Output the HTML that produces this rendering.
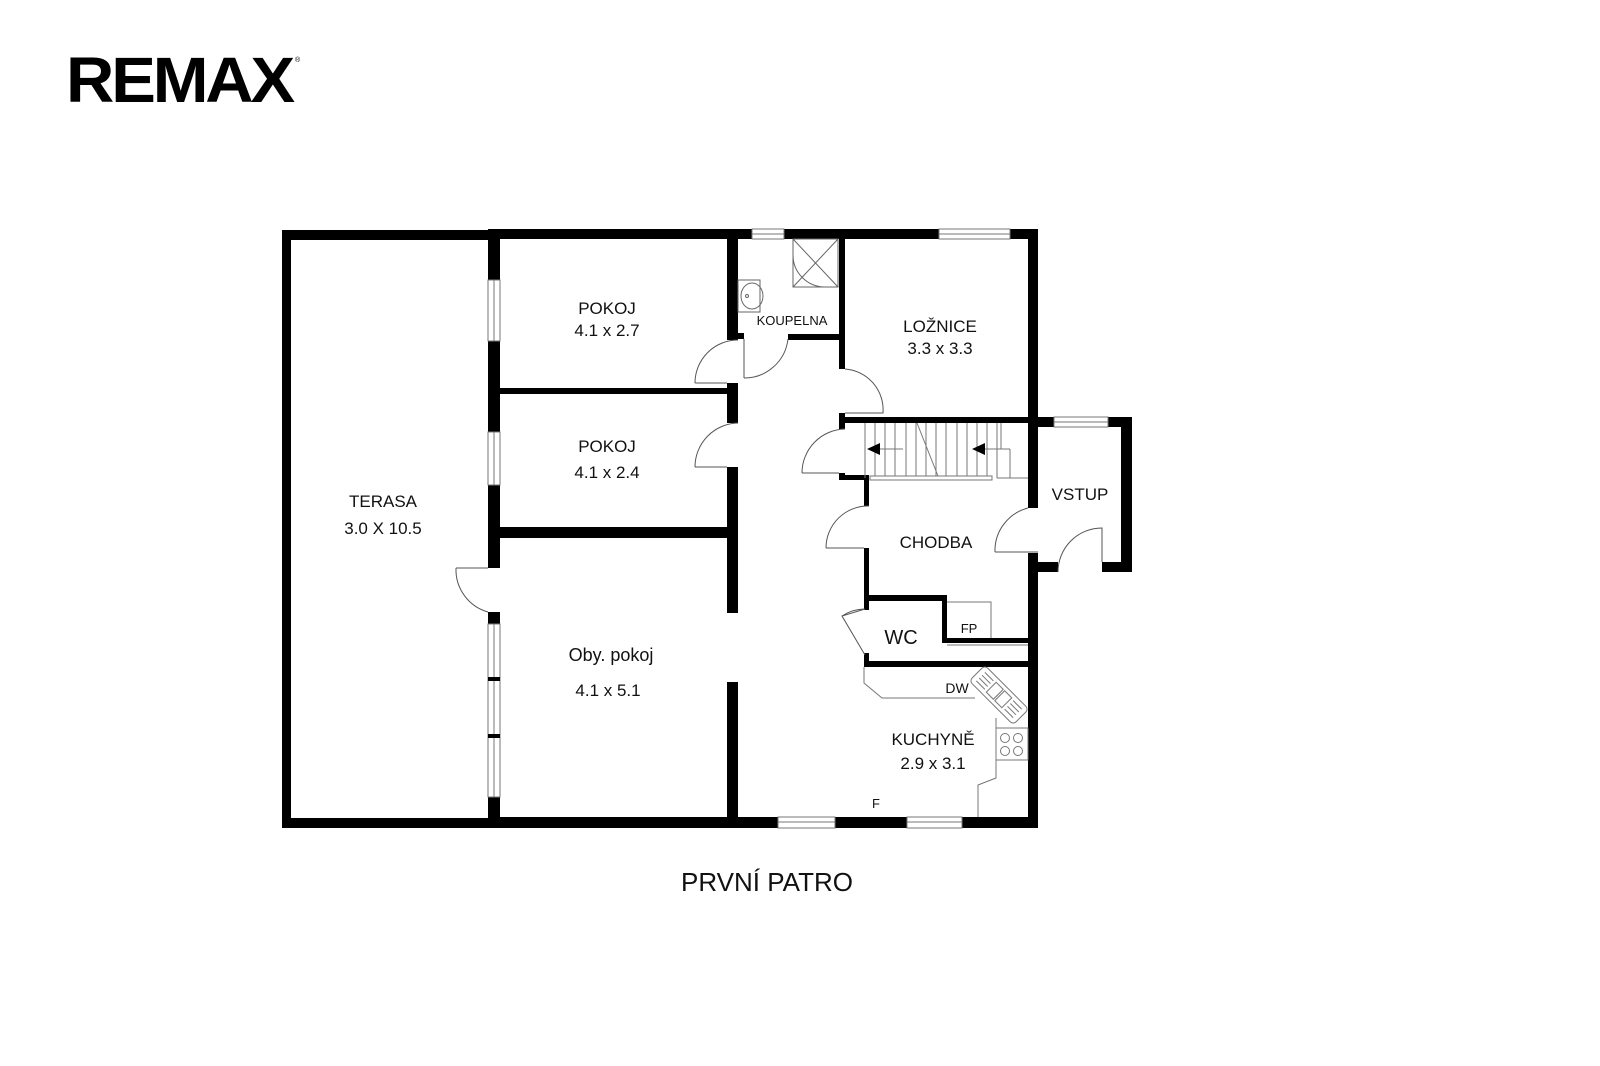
<!DOCTYPE html>
<html><head><meta charset="utf-8"><style>
html,body{margin:0;padding:0;background:#fff;}
svg{display:block;}
text{font-family:"Liberation Sans",sans-serif;fill:#111;}
</style></head><body>
<svg width="1600" height="1066" viewBox="0 0 1600 1066" xmlns="http://www.w3.org/2000/svg">
<rect width="1600" height="1066" fill="#fff"/>
<!-- logo -->
<text x="66" y="102" font-size="64" font-weight="bold" letter-spacing="-3" textLength="226" lengthAdjust="spacingAndGlyphs" style="fill:#000">REMAX</text>
<text x="295" y="62" font-size="7" style="fill:#000">®</text>

<g fill="#000">
<!-- terasa -->
<rect x="282" y="230" width="206" height="10"/>
<rect x="282" y="230" width="9" height="598"/>
<rect x="282" y="818" width="206" height="10"/>
<!-- main top wall -->
<rect x="488" y="229" width="550" height="10"/>
<!-- wall terasa/rooms -->
<rect x="488" y="229" width="12" height="339"/>
<rect x="488" y="612" width="12" height="216"/>
<!-- bottom wall -->
<rect x="488" y="817" width="550" height="11"/>
<!-- right outer wall -->
<rect x="1028" y="229" width="10" height="279"/>
<rect x="1028" y="553" width="10" height="275"/>
<!-- pokoj right wall -->
<rect x="727" y="239" width="11" height="101"/>
<rect x="727" y="383" width="11" height="40"/>
<rect x="727" y="467" width="11" height="146"/>
<rect x="727" y="682" width="11" height="140"/>
<!-- dividers -->
<rect x="500" y="388" width="227" height="6"/>
<rect x="500" y="527" width="227" height="11"/>
<!-- koupelna -->
<rect x="737" y="333" width="7" height="6"/>
<rect x="788" y="334" width="57" height="6"/>
<rect x="839" y="239" width="6" height="130"/>
<!-- stair walls -->
<rect x="839" y="417" width="199" height="6"/>
<rect x="839" y="413" width="6" height="16"/>
<rect x="839" y="473" width="6" height="7"/>
<rect x="839" y="475" width="30" height="5"/>
<rect x="864" y="475" width="5" height="31"/>
<rect x="864" y="548" width="5" height="62"/>
<rect x="864" y="595" width="83" height="6"/>
<rect x="942" y="595" width="5" height="48"/>
<rect x="942" y="638" width="86" height="5"/>
<rect x="864" y="653" width="5" height="14"/>
<rect x="864" y="661" width="164" height="6"/>
<!-- vstup -->
<rect x="1038" y="417" width="94" height="10"/>
<rect x="1121" y="417" width="11" height="155"/>
<rect x="1038" y="562" width="20" height="10"/>
<rect x="1102" y="562" width="30" height="10"/>
</g>

<!-- windows -->
<g fill="#fff" stroke="#777" stroke-width="1">
<rect x="752" y="229" width="32" height="10"/>
<rect x="939" y="229" width="71" height="10"/>
<rect x="1054" y="417" width="54" height="10"/>
<rect x="778" y="817" width="57" height="11"/>
<rect x="907" y="817" width="55" height="11"/>
<rect x="488" y="280" width="12" height="61"/>
<rect x="488" y="432" width="12" height="53"/>
<rect x="488" y="624" width="12" height="173"/>
</g>
<g stroke="#777" stroke-width="1">
<line x1="752" y1="234" x2="784" y2="234"/>
<line x1="939" y1="234" x2="1010" y2="234"/>
<line x1="1054" y1="422" x2="1108" y2="422"/>
<line x1="778" y1="822" x2="835" y2="822"/>
<line x1="907" y1="822" x2="962" y2="822"/>
<line x1="494" y1="280" x2="494" y2="341"/>
<line x1="494" y1="432" x2="494" y2="485"/>
<line x1="494" y1="624" x2="494" y2="797"/>
</g>
<g fill="#000"><rect x="488" y="677" width="12" height="4"/><rect x="488" y="734" width="12" height="4"/></g>

<!-- doors -->
<g fill="none" stroke="#555" stroke-width="1">
<path d="M456 568 L488 568 M456 568 A44 44 0 0 0 488 612"/>
<path d="M695 383 L727 383 M695 383 A43 43 0 0 1 738 340"/>
<path d="M695 467 L727 467 M695 467 A44 44 0 0 1 738 423"/>
<path d="M744 339 L744 378 M744 378 A44 44 0 0 0 788 339"/>
<path d="M845 369 A41 41 0 0 1 883 413 L845 413"/>
<path d="M802 473 L839 473 M802 473 A44 44 0 0 1 845 429"/>
<path d="M826 548 L864 548 M826 548 A42 42 0 0 1 869 506"/>
<path d="M995 552 L1038 552 M995 552 A44 44 0 0 1 1028 508"/>
<path d="M1102 562 L1102 528 A44 44 0 0 0 1058 572"/>
<path d="M865 609 L842 616 L865 655 M842 616 A42 42 0 0 1 864 609"/>
</g>

<!-- shower & sink -->
<g fill="none" stroke="#666" stroke-width="1">
<rect x="793" y="239" width="45" height="48"/>
<line x1="793" y1="239" x2="838" y2="287"/>
<line x1="838" y1="239" x2="793" y2="287"/>
<path d="M793 255 A32 32 0 0 0 825 287"/>
<rect x="738" y="280" width="22" height="32"/>
<ellipse cx="752" cy="296" rx="11" ry="13"/>
<circle cx="747" cy="296" r="1.5"/>
</g>

<!-- stairs -->
<g stroke="#777" stroke-width="1" fill="none">
<line x1="865" y1="423" x2="865" y2="478"/>
<line x1="875" y1="423" x2="875" y2="478"/>
<line x1="885" y1="423" x2="885" y2="478"/>
<line x1="895" y1="423" x2="895" y2="478"/>
<line x1="906" y1="423" x2="906" y2="478"/>
<line x1="916" y1="423" x2="916" y2="478"/>
<line x1="926" y1="423" x2="926" y2="478"/>
<line x1="936" y1="423" x2="936" y2="478"/>
<line x1="946" y1="423" x2="946" y2="478"/>
<line x1="957" y1="423" x2="957" y2="478"/>
<line x1="967" y1="423" x2="967" y2="478"/>
<line x1="977" y1="423" x2="977" y2="478"/>
<line x1="987" y1="423" x2="987" y2="478"/>
<line x1="997" y1="423" x2="997" y2="478"/>
<line x1="917" y1="423" x2="938" y2="476"/>
<rect x="870" y="476" width="122" height="4" fill="#fff"/>
<line x1="997" y1="478" x2="1028" y2="478"/>
<line x1="878" y1="449" x2="903" y2="449"/>
<line x1="985" y1="449" x2="1010" y2="449" />
<line x1="1010" y1="449" x2="1010" y2="478"/>
<line x1="1001" y1="423" x2="1001" y2="449"/>
</g>
<polygon points="867,449 880,443 880,455" fill="#000"/>
<polygon points="972,449 985,443 985,455" fill="#000"/>
<!-- FP box & kitchen -->
<g fill="none" stroke="#777" stroke-width="1">
<polyline points="947,602 991,602 991,638"/>
<line x1="947" y1="645" x2="1028" y2="645"/>
<polyline points="864,667 864,683 882,698 975,698"/>
<polyline points="996,718 996,778 978,785 978,817"/>
<rect x="996" y="728" width="32" height="32"/>
<circle cx="1005" cy="738" r="4.5"/><circle cx="1018" cy="738" r="4.5"/>
<circle cx="1005" cy="751" r="4.5"/><circle cx="1018" cy="751" r="4.5"/>
<g transform="translate(999 695) rotate(45)">
<rect x="-31" y="-11" width="62" height="22" rx="4"/>
<rect x="-11" y="-7" width="10" height="14"/>
<rect x="1" y="-7" width="10" height="14"/>
<line x1="-26" y1="-6" x2="-14" y2="-6"/><line x1="-26" y1="-2" x2="-14" y2="-2"/><line x1="-26" y1="2" x2="-14" y2="2"/><line x1="-26" y1="6" x2="-14" y2="6"/>
<line x1="14" y1="-6" x2="26" y2="-6"/><line x1="14" y1="-2" x2="26" y2="-2"/><line x1="14" y1="2" x2="26" y2="2"/><line x1="14" y1="6" x2="26" y2="6"/>
</g>
</g>

<!-- labels -->
<g text-anchor="middle" font-size="17">
<text x="607" y="314">POKOJ</text>
<text x="607" y="336">4.1 x 2.7</text>
<text x="607" y="452">POKOJ</text>
<text x="607" y="478">4.1 x 2.4</text>
<text x="383" y="507">TERASA</text>
<text x="383" y="534">3.0 X 10.5</text>
<text x="611" y="661" font-size="18">Oby. pokoj</text>
<text x="608" y="696">4.1 x 5.1</text>
<text x="940" y="332">LOŽNICE</text>
<text x="940" y="354">3.3 x 3.3</text>
<text x="792" y="325" font-size="13">KOUPELNA</text>
<text x="1080" y="500">VSTUP</text>
<text x="936" y="548">CHODBA</text>
<text x="901" y="644" font-size="20">WC</text>
<text x="969" y="633" font-size="13">FP</text>
<text x="957" y="693" font-size="14">DW</text>
<text x="933" y="745">KUCHYNĚ</text>
<text x="933" y="769">2.9 x 3.1</text>
<text x="876" y="808" font-size="13">F</text>
<text x="767" y="891" font-size="26">PRVNÍ PATRO</text>
</g>
</svg>
</body></html>
